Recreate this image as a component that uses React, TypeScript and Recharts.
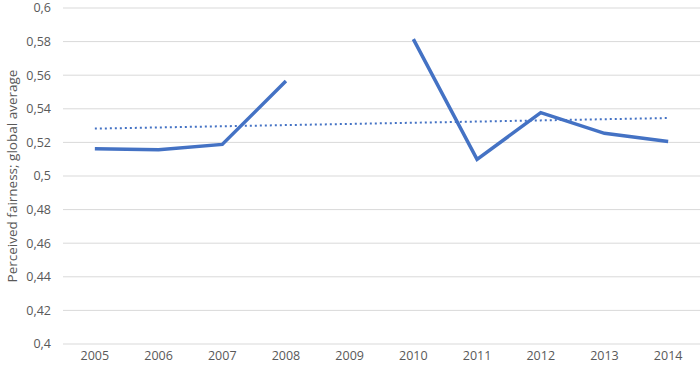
import React from "react";
import { LineChart, Line, XAxis, YAxis, CartesianGrid } from "recharts";

const years = ["2005", "2006", "2007", "2008", "2009", "2010", "2011", "2012", "2013", "2014"];
const fairness: (number | null)[] = [0.5162, 0.5156, 0.5188, 0.5565, null, 0.5815, 0.5099, 0.5377, 0.5254, 0.5206];
const trend = [0.5282, 0.5289, 0.5296, 0.5303, 0.531, 0.5317, 0.5324, 0.5331, 0.5338, 0.5345];
const yTicks = [0.4, 0.42, 0.44, 0.46, 0.48, 0.5, 0.52, 0.54, 0.56, 0.58, 0.6];
const yLabel = "Perceived fairness; global average";

const data = years.map((y, i) => ({ year: y, value: fairness[i], trend: trend[i] }));

const FONT = "'Open Sans', 'Liberation Sans', sans-serif";
const TXT = "#595959";

export default function App() {
  return (
    <div style={{ position: "absolute", left: 0, top: 0 }}>
      <LineChart width={700} height={372} data={data} margin={{ top: 8, right: 0, left: 0, bottom: 0 }}>
        <CartesianGrid vertical={false} stroke="#D9D9D9" strokeWidth={1} />
        <XAxis
          dataKey="year"
          scale="band"
          axisLine={false}
          tickLine={false}
          tickSize={0}
          tickMargin={7}
          height={28}
          tick={{ fill: TXT, fontSize: 12.5, fontFamily: FONT }}
          interval={0}
        />
        <YAxis
          domain={[0.4, 0.6]}
          ticks={yTicks}
          width={63}
          axisLine={false}
          tickLine={false}
          tickSize={0}
          tickMargin={12}
          interval={0}
          tickFormatter={(v: number) => String(v).replace(".", ",")}
          tick={{ fill: TXT, fontSize: 12.5, fontFamily: FONT }}
          label={{
            value: yLabel,
            angle: -90,
            position: "insideLeft",
            offset: 12,
            style: { textAnchor: "middle", fill: TXT, fontSize: 13.5, fontFamily: FONT },
          }}
        />
        <Line
          dataKey="trend"
          stroke="#4472C4"
          strokeWidth={2}
          strokeDasharray="2 3"
          dot={false}
          activeDot={false}
          isAnimationActive={false}
          type="linear"
        />
        <Line
          dataKey="value"
          stroke="#4472C4"
          strokeWidth={3.5}
          dot={false}
          activeDot={false}
          isAnimationActive={false}
          type="linear"
          connectNulls={false}
        />
      </LineChart>
    </div>
  );
}
